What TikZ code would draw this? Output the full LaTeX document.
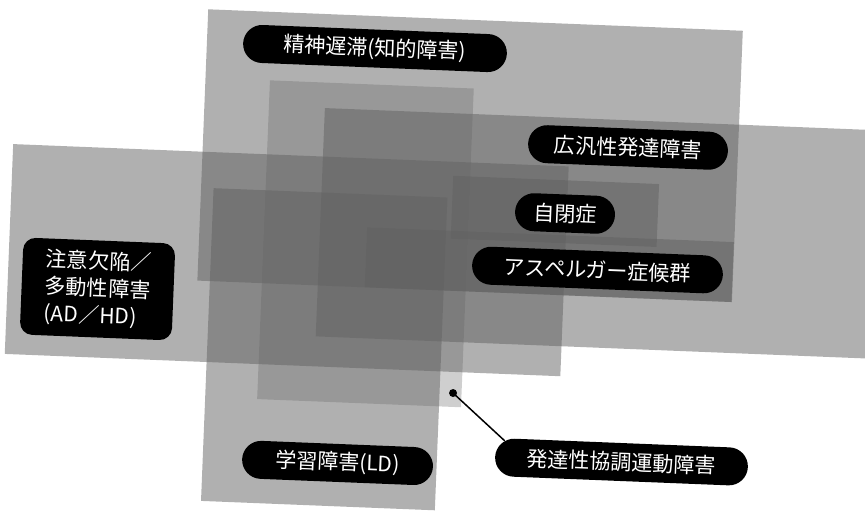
\documentclass[tikz,border=0pt]{standalone}
\usepackage{fontspec}
\newfontfamily\jp{Noto Sans CJK JP}
\usetikzlibrary{shapes.misc}
\definecolor{areagray}{gray}{0.38}
\begin{document}
\begin{tikzpicture}[x=0.02cm,y=-0.02cm,
  area/.style={fill=areagray,fill opacity=0.5},
  lightarea/.style={fill=areagray,fill opacity=0.3},
  lbl/.style={fill=black,text=white,font=\jp\fontsize{12}{15.5}\selectfont,transform shape},
  pill/.style={lbl,rounded rectangle,inner sep=0pt,minimum height=0.76cm},
  box/.style={lbl,rectangle,rounded corners=7pt,align=left,inner xsep=0.47cm,inner ysep=4pt,text width=2.1cm,minimum height=1.94cm}]
\useasboundingbox (0,0) rectangle (865,513);
\begin{scope}
  \clip (0,0) rectangle (865,513);
  \begin{scope}[rotate around={-2.3:(432.5,256.5)}]
    \path[area] (198.5,18.5) rectangle (733.5,290);   % MR
    \path[area] (9,161) rectangle (565,371);          % ADHD
    \path[area] (211,197) rectangle (445,510);        % LD
    \path[lightarea] (263,87) rectangle (467,406);    % DCD
    \path[area] (319,112.5) rectangle (950,341);      % PDD
    \path[area] (450,175) rectangle (656,238);        % autism
    \path[area] (366,230) rectangle (733,290);        % Asperger
  \end{scope}
\end{scope}
\begin{scope}[rotate around={-2.3:(432.5,256.5)}]
  \node[pill,minimum width=5.28cm] (mr) at (366.7,51) {精神遅滞(知的障害)};
  \node[pill,minimum width=4.0cm] (pdd) at (623.5,139.7) {広汎性発達障害};
  \node[pill,minimum width=2.0cm] (aut) at (563.2,208.2) {自閉症};
  \node[pill,minimum width=5.02cm] (asp) at (597.9,263.4) {アスペルガー症候群};
  \node[box] (adhd) at (99.1,302.4) {注意欠陥／\\多動性障害\\(AD／HD)};
  \node[pill,minimum width=3.82cm] (ld) at (345.9,466.6) {学習障害(LD)};
  \node[pill,minimum width=5.06cm] (dcd) at (629.6,454.3) {発達性協調運動障害};
  \node[circle,fill=black,inner sep=0pt,minimum size=0.16cm] (dot) at (458.5,392.1) {};
  \draw[line width=0.85pt] (dot.center) -- (dcd.172);
\end{scope}
\end{tikzpicture}
\end{document}
